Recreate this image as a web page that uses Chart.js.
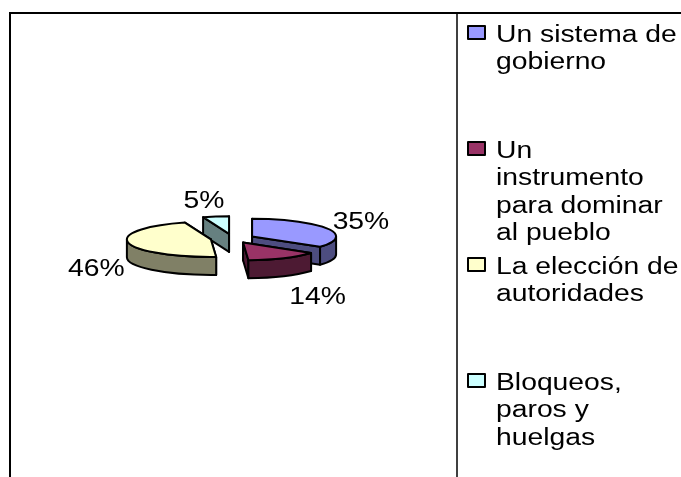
<!DOCTYPE html>
<html lang="es">
<head>
<meta charset="utf-8">
<title>Pie</title>
<script src="https://cdn.jsdelivr.net/npm/chart.js@4"></script>
<style>
    html, body { margin: 0; padding: 0; background: #fff; }
    canvas { display: block; }
</style>
</head>
<body>
<canvas id="myChart" width="681" height="477"></canvas>
<script>
const categories = ['Un sistema de gobierno', 'Un instrumento para dominar al pueblo', 'La elección de autoridades', 'Bloqueos, paros y huelgas'];
const legendLines = [
    ['Un sistema de', 'gobierno'],
    ['Un', 'instrumento', 'para dominar', 'al pueblo'],
    ['La elección de', 'autoridades'],
    ['Bloqueos,', 'paros y', 'huelgas'],
];
const values = [35, 14, 46, 5];
const topColors = ['#9999ff', '#993366', '#ffffcc', '#ccffff'];
const sideColors = ['#4d4d80', '#4d1a33', '#808066', '#668080'];

// squashed look of the 3D pie
const SQUASH = 0.21;
const DEPTH = 18;
const EXPLODE = 22;
const OUTLINE = '#000';
// the reference text is wider than tall
const TEXT_STRETCH = 1.23;
const FONT = '23px "Liberation Sans", Arial, sans-serif';
const labelNudges = [[34, -7], [34, 38], [-32, 25], [-12, -17]];
// slices from back to front
const paintOrder = [3, 2, 0, 1];

/**
 * Draws stretched text. y is the baseline.
 */
const drawText = (ctx, text, x, y, align) => {
    ctx.save();
    ctx.translate(x, y);
    ctx.scale(TEXT_STRETCH, 1);
    ctx.font = FONT;
    ctx.fillStyle = '#000';
    ctx.textAlign = align;
    ctx.textBaseline = 'alphabetic';
    ctx.fillText(text, 0, 0);
    ctx.restore();
};

/**
 * Gets the on-screen apex and radii of a slice from the library's arc element.
 */
const sliceGeometry = (arc) => {
    const mid = (arc.startAngle + arc.endAngle) / 2;
    return {
        px: arc.x + Math.cos(mid) * EXPLODE,
        py: arc.y + Math.sin(mid) * EXPLODE * SQUASH,
        rx: arc.outerRadius,
        ry: arc.outerRadius * SQUASH,
        mid: mid,
    };
};

const paintShape = (ctx, color) => {
    ctx.fillStyle = color;
    ctx.fill();
    ctx.strokeStyle = OUTLINE;
    ctx.lineWidth = 2;
    ctx.lineJoin = 'round';
    ctx.stroke();
};

/**
 * Draws the cut faces and the outer wall of one slice.
 */
const drawWalls = (ctx, arc, color) => {
    const g = sliceGeometry(arc);

    [arc.startAngle, arc.endAngle].forEach((angle) => {
        const ex = g.px + Math.cos(angle) * g.rx;
        const ey = g.py + Math.sin(angle) * g.ry;
        ctx.beginPath();
        ctx.moveTo(g.px, g.py);
        ctx.lineTo(ex, ey);
        ctx.lineTo(ex, ey + DEPTH);
        ctx.lineTo(g.px, g.py + DEPTH);
        ctx.closePath();
        paintShape(ctx, color);
    });

    // only the front half of the rim can be seen
    const from = Math.max(arc.startAngle, 0);
    const to = Math.min(arc.endAngle, Math.PI);
    if (from < to) {
        ctx.beginPath();
        ctx.ellipse(g.px, g.py, g.rx, g.ry, 0, from, to);
        ctx.ellipse(g.px, g.py + DEPTH, g.rx, g.ry, 0, to, from, true);
        ctx.closePath();
        paintShape(ctx, color);
    }
};

/**
 * Lets the library's arc element fill the top of the slice, moved and squashed.
 */
const drawTop = (ctx, arc, area) => {
    const g = sliceGeometry(arc);
    ctx.save();
    ctx.translate(g.px, g.py);
    ctx.scale(1, SQUASH);
    ctx.translate(-arc.x, -arc.y);
    arc.draw(ctx, area);
    ctx.restore();

    ctx.beginPath();
    ctx.moveTo(g.px, g.py);
    ctx.ellipse(g.px, g.py, g.rx, g.ry, 0, arc.startAngle, arc.endAngle);
    ctx.closePath();
    ctx.strokeStyle = OUTLINE;
    ctx.lineWidth = 2;
    ctx.lineJoin = 'round';
    ctx.stroke();
};

const drawLegend = (ctx) => {
    legendLines.forEach((lines, i) => {
        const baseline = 42 + i * 116;
        ctx.beginPath();
        ctx.rect(468, baseline - 16, 17, 13);
        paintShape(ctx, topColors[i]);
        lines.forEach((line, j) => {
            drawText(ctx, line, 496, baseline + j * 27.3, 'left');
        });
    });
};

const drawFrame = (ctx) => {
    ctx.strokeStyle = '#000';
    ctx.lineWidth = 2;
    ctx.beginPath();
    ctx.moveTo(10, 477);
    ctx.lineTo(10, 13);
    ctx.lineTo(681, 13);
    ctx.stroke();
    ctx.lineWidth = 1.5;
    ctx.beginPath();
    ctx.moveTo(457, 13);
    ctx.lineTo(457, 477);
    ctx.stroke();
};

const pie3dPlugin = {
    id: 'pie3d',
    beforeDraw: (chart) => {
        drawFrame(chart.ctx);
    },
    beforeDatasetDraw: (chart) => {
        const ctx = chart.ctx;
        const arcs = chart.getDatasetMeta(0).data;
        paintOrder.forEach((i) => drawWalls(ctx, arcs[i], sideColors[i]));
        paintOrder.forEach((i) => drawTop(ctx, arcs[i], chart.chartArea));
        // the slices are done here, so the normal dataset drawing is skipped
        return false;
    },
    afterDatasetsDraw: (chart) => {
        const ctx = chart.ctx;
        chart.getDatasetMeta(0).data.forEach((arc, i) => {
            const g = sliceGeometry(arc);
            const x = g.px + Math.cos(g.mid) * g.rx + labelNudges[i][0];
            const y = g.py + Math.sin(g.mid) * g.ry + labelNudges[i][1] + 8;
            drawText(ctx, values[i] + '%', x, y, 'center');
        });

        drawLegend(ctx);
    },
};

const main = () => {
    new Chart(document.getElementById('myChart'), {
        type: 'pie',
        data: {
            labels: categories,
            datasets: [
                {
                    data: values,
                    backgroundColor: topColors,
                    borderWidth: 0,
                },
            ],
        },
        options: {
            responsive: false,
            animation: false,
            radius: 84,
            layout: {
                padding: { right: 216 },
            },
            plugins: {
                legend: { display: false },
                tooltip: { enabled: false },
            },
        },
        plugins: [pie3dPlugin],
    });
};

main();
</script>
</body>
</html>
